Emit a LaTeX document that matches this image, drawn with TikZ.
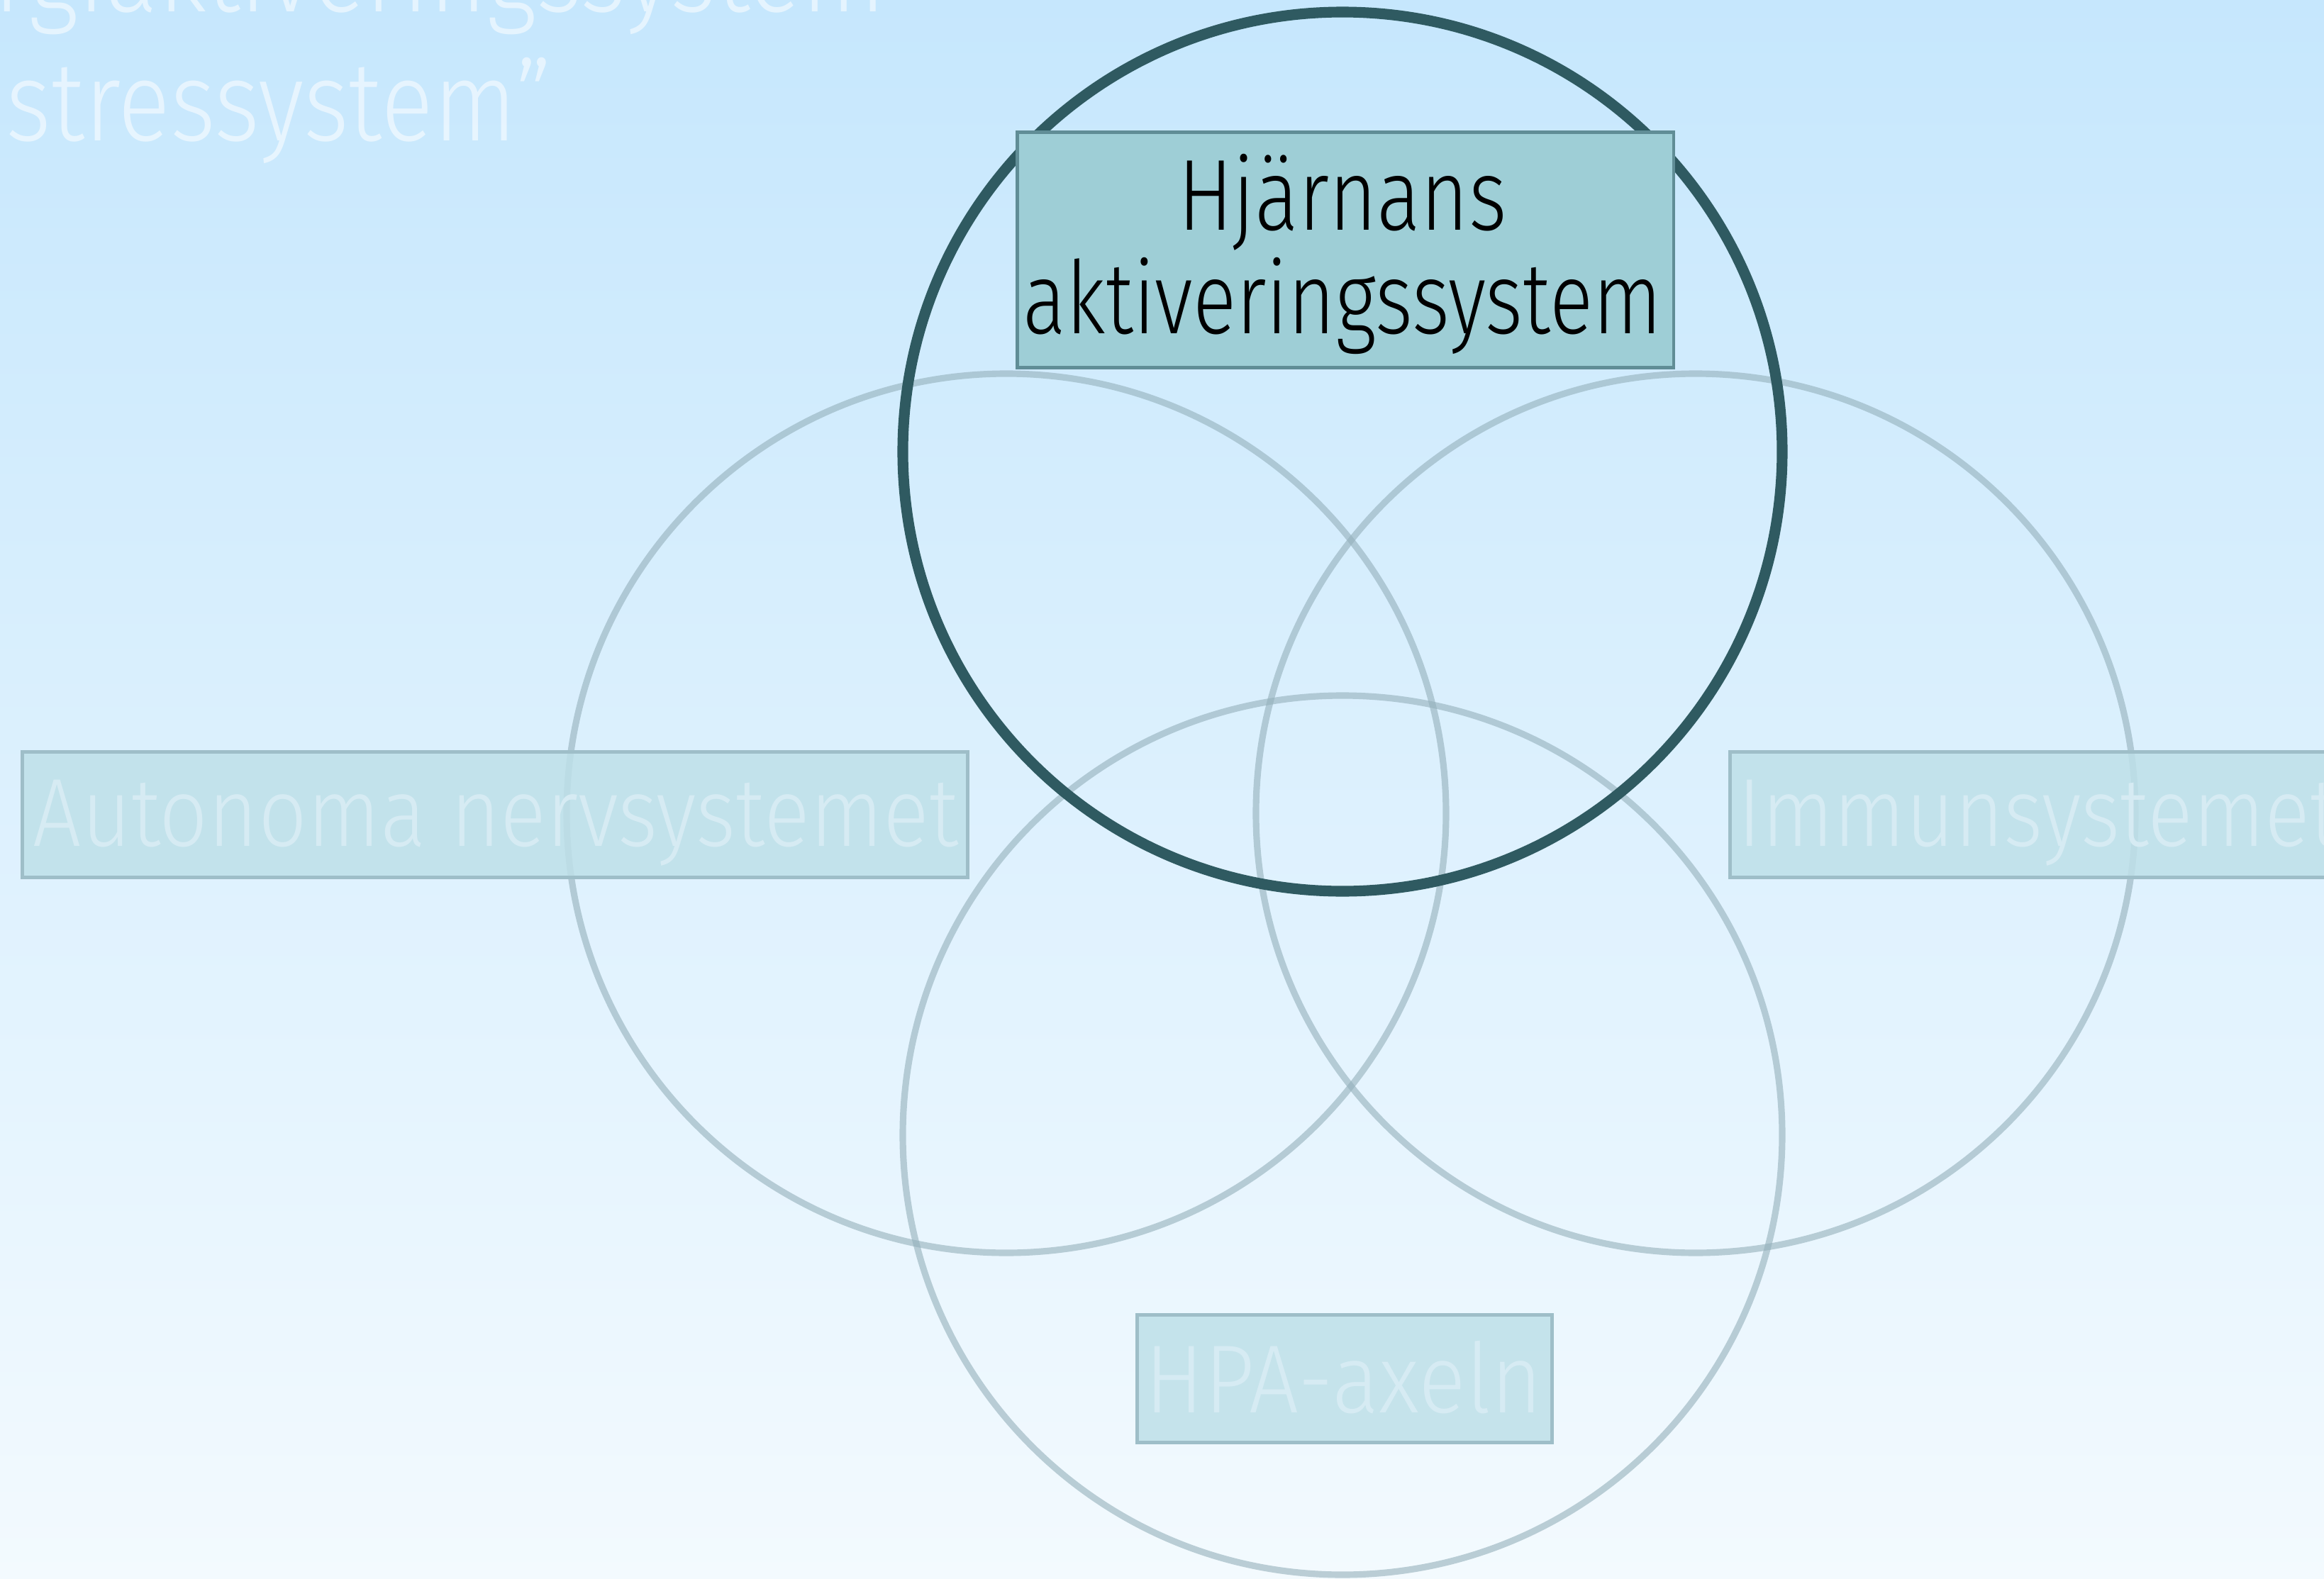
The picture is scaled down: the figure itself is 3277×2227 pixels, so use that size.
\documentclass[tikz,border=0pt]{standalone}
\usepackage{fontspec}
\setmainfont{Fira Sans}[UprightFont={* Light}]
\definecolor{bgtop}{RGB}{198,231,253}
\definecolor{bgbot}{RGB}{243,250,254}
\definecolor{darkring}{RGB}{47,90,97}
\definecolor{lightring}{RGB}{148,176,187}
\definecolor{brainfill}{RGB}{158,206,214}
\definecolor{brainedge}{RGB}{96,141,150}
\definecolor{fadefill}{RGB}{190,224,232}
\definecolor{fadeedge}{RGB}{158,190,200}
\definecolor{fadetext}{RGB}{214,235,243}
\newcommand{\narrow}[2]{\scalebox{#1}[1]{#2}}
\tikzset{
  ring/.style={draw=lightring, draw opacity=0.6, line width=2.6pt},
  mainring/.style={draw=darkring, line width=4.3pt},
  fadebox/.style={draw=fadeedge, fill=fadefill, fill opacity=0.85,
    line width=1.4pt, inner sep=0pt, anchor=north west},
  fadelabel/.style={text=fadetext, inner sep=0pt, font=\fontsize{38.8}{40}\selectfont},
  brainbox/.style={draw=brainedge, fill=brainfill, line width=1.4pt,
    inner sep=0pt, anchor=north west},
  brainlabel/.style={text=black, inner sep=0pt, anchor=base, font=\fontsize{40.5}{42}\selectfont},
  titletext/.style={text=white, text opacity=0.55, inner sep=0pt, font=\fontsize{45}{50}\selectfont},
}
\begin{document}
\begin{tikzpicture}[x=0.01cm, y=-0.01cm]
\useasboundingbox (0,0) rectangle (3277,2227);
\begin{scope}
\clip (0,0) rectangle (3277,2227);
% background
\shade[top color=bgtop, bottom color=bgbot] (0,0) rectangle (3277,2227);
% heading, running off the top edge
\node[titletext, anchor=base east] (title1) at (1250,17)
  {\narrow{0.88}{energiaktiveringssystem}};
\node[titletext, anchor=base west] (title2) at (8,199)
  {\narrow{0.87}{stressystem”}};
% the four overlapping systems
\draw[ring] (1419,1147) circle (620);
\draw[ring] (2391,1147) circle (620);
\draw[ring] (1893,1601) circle (620);
\draw[mainring] (1893,637) circle (620);
% labels
\node[fadebox, minimum width=13.32cm, minimum height=1.77cm] (ans) at (29,1058) {};
\node[fadelabel, anchor=base west] (anstext) at (46,1193)
  {\narrow{0.886}{Autonoma nervsystemet}};
\node[fadebox, minimum width=8.7cm, minimum height=1.77cm] (imm) at (2437,1058) {};
\node[fadelabel, anchor=base west] (immtext) at (2450,1193)
  {\narrow{0.872}{Immunsystemet}};
\node[fadebox, minimum width=5.85cm, minimum height=1.80cm] (hpa) at (1601,1852) {};
\node[fadelabel, anchor=base] (hpatext) at (1895,1992)
  {\narrow{0.91}{HPA-axeln}};
\node[brainbox, minimum width=9.25cm, minimum height=3.32cm] (brain) at (1432,184) {};
\node[brainlabel] (braintext1) at (1893,324) {\narrow{0.81}{Hjärnans}};
\node[brainlabel] (braintext2) at (1893,470) {\narrow{0.80}{aktiveringssystem}};
\end{scope}
\end{tikzpicture}
\end{document}
